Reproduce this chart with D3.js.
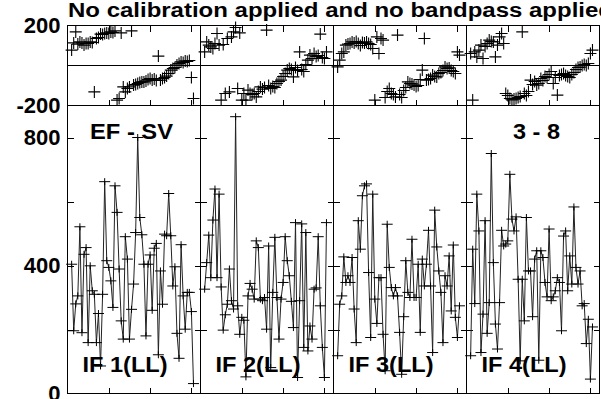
<!DOCTYPE html>
<html>
<head>
<meta charset="utf-8">
<script src="https://cdn.jsdelivr.net/npm/d3@7"></script>
<style>
html,body{margin:0;padding:0;background:#fff;overflow:hidden;}
svg{display:block;}
text{font-family:"Liberation Sans",Arial,Helvetica,sans-serif;font-weight:bold;fill:#000;}
</style>
</head>
<body>
<script>
// ---------------- data ----------------
const titleText = "No calibration applied and no bandpass applied";
const ifLabels = ["IF 1(LL)", "IF 2(LL)", "IF 3(LL)", "IF 4(LL)"];
const baselineLeft = "EF - SV";
const baselineRight = "3 - 8";
const channels = d3.range(2, 62); // 60 channels
const channelTicks = [20, 40, 60];
const ampTickLabels = [0, 400, 800];
const ampMinorTicks = [200, 400, 600, 800];
const phaseTickLabels = [-200, 200];

const ampIF1 = [404,196,280,305,521,190,435,456,159,399, 321,310,159,250,86,310,662,415,394,352,
                269,649,566,389,227,170,490,420,170,263, 342,503,800,550,496,404,180,404,433,260,
                454,469,121,383,279,498,493,625,493,336, 396,188,110,465,305,201,316,316,256,31];
const ampIF2 = [326,409,495,362,542,639,362,623,333,198, 246,279,389,290,264,865,274,185,238,229,
                52,305,344,326,295,477,456,295,290,300, 201,461,81,316,488,300,170,295,347,490,
                415,368,288,206,534,50,290,530,144,503, 133,211,170,326,330,490,274,144,50,534];
const ampIF3 = [118,279,305,427,347,368,347,425,264,159, 540,451,618,649,655,378,175,623,295,219,
                362,362,185,71,529,394,331,305,331,305, 191,60,240,415,316,300,482,300,300,404,
                191,420,336,404,510,336,128,573,458,383, 316,159,368,336,430,258,464,238,175,274];
const ampIF4 = [118,451,281,623,508,128,248,540,188,284, 750,409,217,139,284,510,461,467,477,685,
                545,508,552,357,102,357,227,550,383,383, 240,420,446,104,446,425,347,302,514,290,
                302,321,362,347,196,492,508,321,430,342, 583,394,342,383,274,281,156,232,45,208];

const phIF1 = [77,113,168,107,118,113,102,110,110,118, 115,-132,135,140,157,155,160,163,160,168,
               165,173,-173,-165,163,-107,-132,-115,-107,173, -98,-95,-90,-85,-82,-82,-77,-70,-65,-73,
               -68,-75,47,-73,-65,-60,-53,-40,-23,-15, -10,2,10,18,15,23,20,25,-60,-165];
const phIF2 = [68,118,102,93,85,110,160,102,-173,105, -140,135,-132,143,168,190,-115,163,-173,-140,
               -173,-123,-140,-145,-140,-157,-130,-107,-118,-110, 177,-100,-115,-105,-110,-90,-80,-73,-55,-40,
               -23,-15,-20,-57,-10,-25,68,-20,-30,5, 27,52,35,60,45,50,157,40,35,68];
const phIF3 = [-7,27,60,68,102,107,110,118,113,120, 110,100,115,112,118,110,105,85,-173,143,
               60,135,127,-160,-130,-115,-140,-145,-157,152, -145,-160,-125,-110,-82,-90,-92,-98,-105,-100,
               -70,-23,135,-73,-70,-65,-48,-55,-57,-40, -35,-25,-7,-15,-12,-25,-30,-40,68,52];
const phIF4 = [60,-173,68,43,77,102,35,95,110,127, 120,118,43,102,143,160,110,-140,-150,-165,
               -172,-168,-165,-160,-155,168,-140,-150,-130,-73, -95,-80,-98,-90,-65,-75,-55,-60,-45,-30,
               -90,-60,-148,-50,-45,-40,-50,-55,-60,-45, -35,-20,-10,-8,0,5,0,10,60,77];

const ampSeries = [ampIF1, ampIF2, ampIF3, ampIF4];
const phSeries = [phIF1, phIF2, phIF3, phIF4];

// ---------------- layout ----------------
const W = 601, H = 399;
const left = 67.5, pw = 133, phTop = 25.5, midY = 105.5, ampBot = 393.5;

const svg = d3.select("body").append("svg").attr("width", W).attr("height", H);
svg.append("rect").attr("width", W).attr("height", H).attr("fill", "#fff");

const yAmp = d3.scaleLinear().domain([0, 900]).range([ampBot, midY]);
const yPh = d3.scaleLinear().domain([-200, 200]).range([midY, phTop]);

const fmt = d => String(d); // plain hyphen-minus as in the reference

ampSeries.forEach((amp, i) => {
  const x0 = left + i * pw, x1 = x0 + pw;
  const x = d3.scaleLinear().domain([0, 64.4]).range([x0, x1]);
  const g = svg.append("g");

  // frames
  g.append("rect").attr("x", x0).attr("y", phTop).attr("width", pw).attr("height", midY - phTop)
    .attr("fill", "none").attr("stroke", "#000").attr("shape-rendering", "crispEdges");
  g.append("rect").attr("x", x0).attr("y", midY).attr("width", pw).attr("height", ampBot - midY)
    .attr("fill", "none").attr("stroke", "#000").attr("shape-rendering", "crispEdges");
  g.append("line").attr("x1", x0).attr("x2", x1).attr("y1", yPh(0)).attr("y2", yPh(0))
    .attr("stroke", "#000").attr("shape-rendering", "crispEdges");

  // inward ticks through d3 axes
  const tickStyle = sel => {
    sel.select(".domain").remove();
    sel.selectAll("line").attr("stroke", "#000").attr("shape-rendering", "crispEdges");
  };
  g.append("g").attr("transform", `translate(0,${ampBot})`)
    .call(d3.axisTop(x).tickValues(channelTicks).tickSize(6).tickFormat("")).call(tickStyle);
  g.append("g").attr("transform", `translate(0,${midY})`)
    .call(d3.axisTop(x).tickValues(channelTicks).tickSize(6).tickFormat("")).call(tickStyle);
  g.append("g").attr("transform", `translate(0,${phTop})`)
    .call(d3.axisBottom(x).tickValues(channelTicks).tickSize(6).tickFormat("")).call(tickStyle);
  g.append("g").attr("transform", `translate(${x0},0)`)
    .call(d3.axisRight(yAmp).tickValues(ampMinorTicks).tickSize(6).tickFormat("")).call(tickStyle);
  g.append("g").attr("transform", `translate(${x1},0)`)
    .call(d3.axisLeft(yAmp).tickValues(ampMinorTicks).tickSize(6).tickFormat("")).call(tickStyle);

  // amplitude line
  const pts = channels.map((c, k) => ({c, v: amp[k]}));
  g.append("path").datum(pts)
    .attr("d", d3.line().x(d => x(d.c)).y(d => yAmp(d.v)))
    .attr("fill", "none").attr("stroke", "#222").attr("stroke-width", 1);
  g.append("g").selectAll("path").data(pts).join("path")
    .attr("d", d => {
      const px = x(d.c), py = yAmp(d.v);
      return `M${px - 5.5},${py}h11M${px},${py - 3.5}v7`;
    })
    .attr("stroke", "#000").attr("stroke-width", 1).attr("fill", "none");

  // phase crosses
  const ph = phSeries[i];
  g.append("g").selectAll("path").data(channels.map((c, k) => ({c, v: ph[k]}))).join("path")
    .attr("d", d => {
      const px = x(d.c), py = yPh(d.v);
      return `M${px - 6},${py}h12M${px},${py - 6}v12`;
    })
    .attr("stroke", "#000").attr("stroke-width", 1.1).attr("fill", "none");

  // IF label
  g.append("text").attr("x", x0 + 15).attr("y", 372).attr("font-size", 22)
    .attr("textLength", 85).attr("lengthAdjust", "spacingAndGlyphs").text(ifLabels[i]);
});

// baseline labels
svg.append("text").attr("x", 90).attr("y", 139).attr("font-size", 22)
  .attr("textLength", 83).attr("lengthAdjust", "spacingAndGlyphs").text(baselineLeft);
svg.append("text").attr("x", 513).attr("y", 139).attr("font-size", 22)
  .attr("textLength", 47).attr("lengthAdjust", "spacingAndGlyphs").text(baselineRight);

// y labels via axes
const labStyle = sel => {
  sel.select(".domain").remove();
  sel.selectAll("line").remove();
  sel.selectAll("text").attr("font-size", 22).attr("font-family", null)
    .style("font-family", '"Liberation Sans",Arial,sans-serif').style("font-weight", "bold").attr("fill", "#000");
};
svg.append("g").attr("transform", `translate(${left},0)`)
  .call(d3.axisLeft(yAmp).tickValues(ampTickLabels).tickSize(0).tickPadding(7).tickFormat(fmt)).call(labStyle);
svg.append("g").attr("transform", `translate(${left},0)`)
  .call(d3.axisLeft(yPh).tickValues(phaseTickLabels).tickSize(0).tickPadding(7).tickFormat(fmt)).call(labStyle);

// title
svg.append("text").attr("x", 68).attr("y", 17).attr("font-size", 20)
  .attr("textLength", 545).attr("lengthAdjust", "spacingAndGlyphs").text(titleText);
</script>
</body>
</html>
